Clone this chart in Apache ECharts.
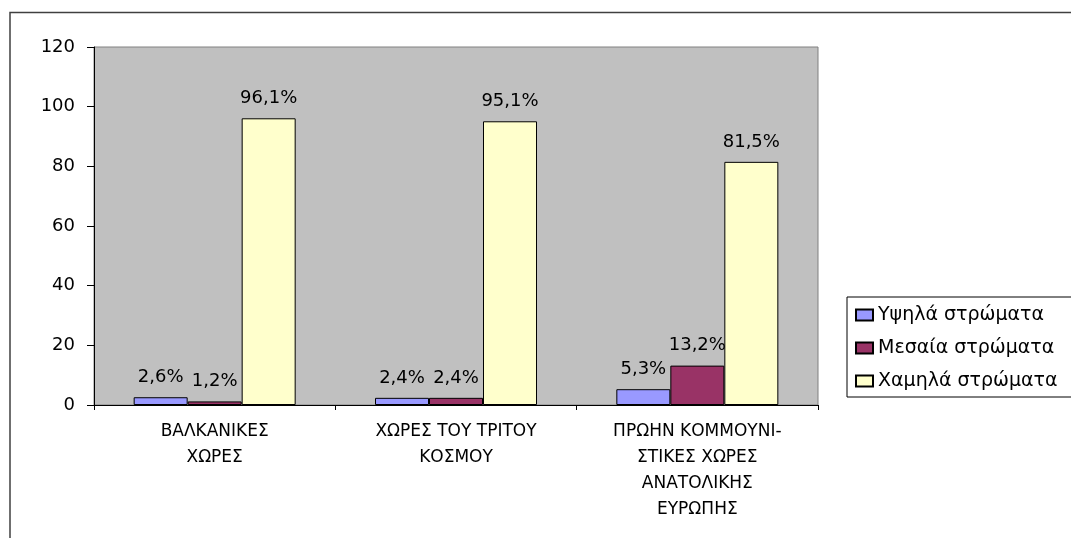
<!DOCTYPE html>
<html lang="el">
  <head>
    <meta charset="UTF-8" />
    <title>Chart</title>
    <script src="https://cdn.jsdelivr.net/npm/echarts@6/dist/echarts.min.js"></script>
    <style>
      html, body { margin: 0; padding: 0; background: #fff; }
    </style>
  </head>
  <body>
    <div id="main" style="height: 538px; width: 1071px"></div>
  </body>
</html>
<script>
  // data
  var categories = [
    'ΒΑΛΚΑΝΙΚΕΣ\nΧΩΡΕΣ',
    'ΧΩΡΕΣ ΤΟΥ ΤΡΙΤΟΥ\nΚΟΣΜΟΥ',
    'ΠΡΩΗΝ ΚΟΜΜΟΥΝΙ-\nΣΤΙΚΕΣ ΧΩΡΕΣ\nΑΝΑΤΟΛΙΚΗΣ\nΕΥΡΩΠΗΣ'
  ]
  var seriesNames = ['Υψηλά στρώματα', 'Μεσαία στρώματα', 'Χαμηλά στρώματα']
  var highValues = [2.6, 2.4, 5.3]
  var midValues = [1.2, 2.4, 13.2]
  var lowValues = [96.1, 95.1, 81.5]
  var colors = ['#9999FF', '#993366', '#FFFFCC']

  const chartInstance = echarts.init(document.getElementById('main'))

  function makeSeries(name, values, color) {
    return {
      name: name,
      type: 'bar',
      data: values,
      barWidth: 54,
      barGap: '0%',
      itemStyle: { color: color, borderColor: '#000', borderWidth: 1 },
      label: {
        show: true,
        position: 'top',
        distance: 11,
        fontFamily: 'DejaVu Sans',
        fontSize: 18,
        color: '#000',
        formatter: function (p) {
          return String(p.value).replace('.', ',') + '%'
        }
      }
    }
  }

  const option = {
    animation: false,
    backgroundColor: '#fff',
    grid: {
      left: 94,
      right: 253,
      top: 47,
      bottom: 133,
      show: true,
      backgroundColor: '#C0C0C0',
      borderColor: '#808080',
      borderWidth: 1
    },
    legend: {
      orient: 'vertical',
      left: 847,
      top: 297,
      padding: [8, 40, 6, 8],
      itemGap: 13,
      itemWidth: 17,
      itemHeight: 11,
      icon: 'rect',
      backgroundColor: '#fff',
      borderColor: '#000',
      borderWidth: 1,
      borderRadius: 0,
      textStyle: { fontFamily: 'DejaVu Sans', fontSize: 19, color: '#000', lineHeight: 20 },
      data: seriesNames
    },
    xAxis: {
      type: 'category',
      data: categories,
      axisLine: { lineStyle: { color: '#000', width: 1 } },
      axisTick: { show: true, length: 5, lineStyle: { color: '#000' } },
      axisLabel: {
        interval: 0,
        margin: 14,
        fontFamily: 'DejaVu Sans',
        fontSize: 17,
        lineHeight: 26,
        color: '#000'
      }
    },
    yAxis: {
      type: 'value',
      min: 0,
      max: 120,
      interval: 20,
      splitLine: { show: false },
      axisLine: { show: true, lineStyle: { color: '#000', width: 1 } },
      axisTick: { show: true, length: 7, lineStyle: { color: '#000' } },
      axisLabel: {
        margin: 19,
        fontFamily: 'DejaVu Sans',
        fontSize: 18,
        color: '#000'
      }
    },
    graphic: [
      {
        type: 'rect',
        silent: true,
        z: -10,
        shape: { x: 10, y: 12.5, width: 1200, height: 700 },
        style: { fill: 'none', stroke: '#404040', lineWidth: 1.5 }
      }
    ],
    series: [
      makeSeries(seriesNames[0], highValues, colors[0]),
      makeSeries(seriesNames[1], midValues, colors[1]),
      makeSeries(seriesNames[2], lowValues, colors[2])
    ]
  }

  chartInstance.setOption(option)

  window.addEventListener('resize', () => {
    chartInstance.resize()
  })
</script>
